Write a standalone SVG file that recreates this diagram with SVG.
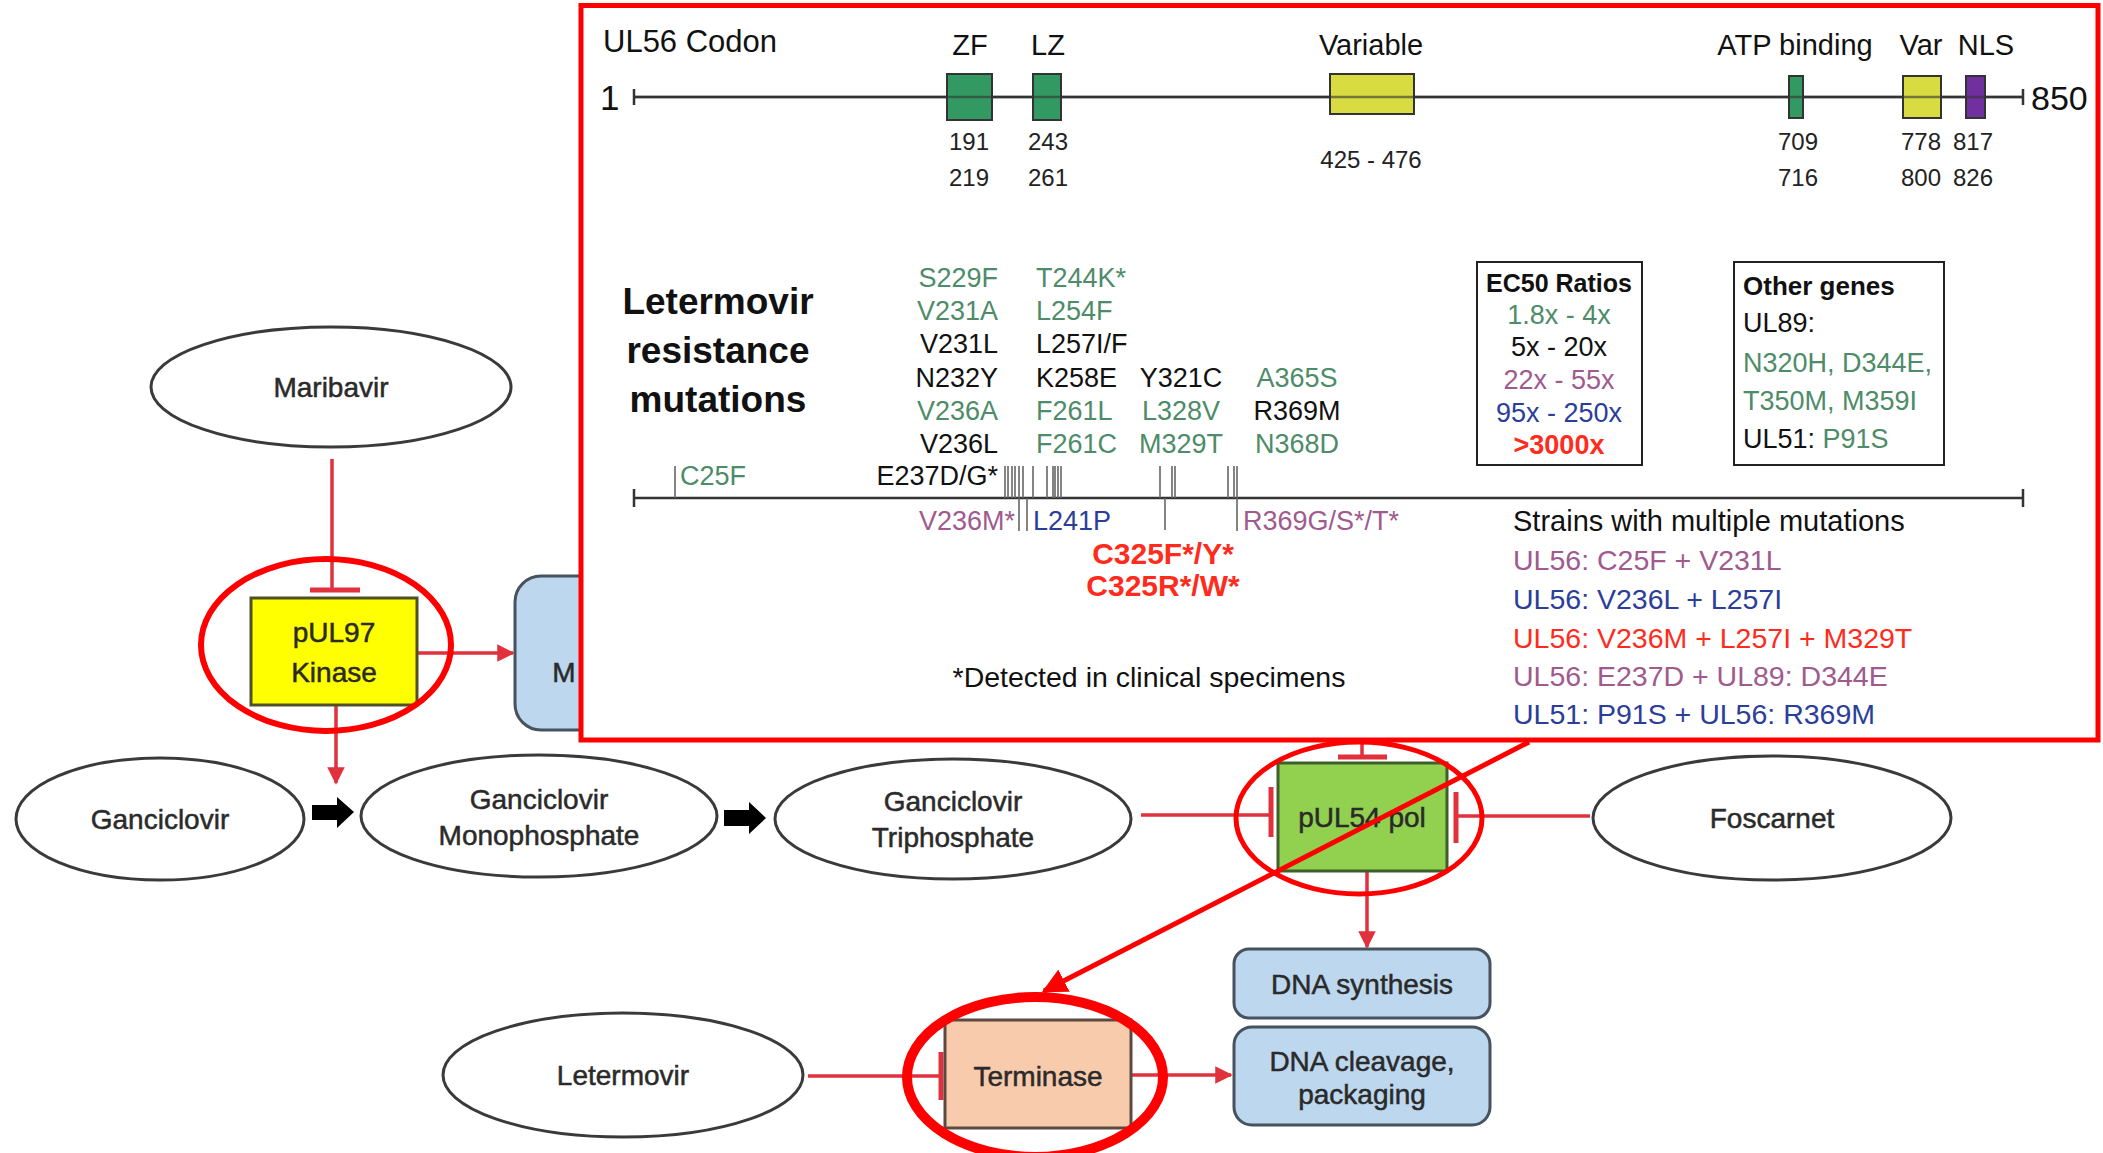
<svg xmlns="http://www.w3.org/2000/svg" width="2103" height="1153" viewBox="0 0 2103 1153">
<style>
  .node text { font-family: "Liberation Sans", Arial, sans-serif; font-size: 28px; fill: #2a2a2a; stroke: #2a2a2a; stroke-width: 0.5; text-anchor: middle; }
  .ell { fill: #fff; stroke: #3a3a3a; stroke-width: 3; }
  .blue { fill: #BDD7EE; stroke: #46525E; stroke-width: 3; }
  .rc { stroke: #E0313C; stroke-width: 3.5; fill: none; }
  .tb { stroke: #E0313C; stroke-width: 5; fill: none; }
  .hl { fill: none; stroke: #FF0000; }
  .t { font-family: "Liberation Sans", Arial, sans-serif; font-size: 27px; fill: #111; }
  .lab { font-size: 29px; text-anchor: middle; }
  .num { font-size: 24px; text-anchor: middle; fill: #222; }
  .g { fill: #4E8B69; }
  .k { fill: #111; }
  .p { fill: #A05A8E; }
  .b { fill: #2B3E9A; }
  .r { fill: #FF2B1C; }
  .bold { font-weight: bold; }
  .mid { text-anchor: middle; }
  .end { text-anchor: end; }
  .tick { stroke: #666; stroke-width: 1.6; }
  .axis { stroke: #333; stroke-width: 2.5; }
  .dom { stroke: #333; stroke-width: 2; }
</style>
<defs>
  <marker id="ah" viewBox="0 0 10 10" refX="9" refY="5" markerWidth="5" markerHeight="5" orient="auto" markerUnits="strokeWidth">
    <path d="M0,0 L10,5 L0,10 z" fill="#E0313C"/>
  </marker>
  <marker id="ahz" viewBox="0 0 10 10" refX="9" refY="5" markerWidth="5" markerHeight="5" orient="auto" markerUnits="strokeWidth">
    <path d="M0,0 L10,5 L0,10 z" fill="#FF0000"/>
  </marker>
</defs>
<rect width="2103" height="1153" fill="#fff"/>

<!-- connectors -->
<g id="connectors">
  <line class="rc" x1="332" y1="459" x2="332" y2="590"/>
  <line class="tb" x1="310" y1="590" x2="360" y2="590"/>
  <line class="rc" x1="417" y1="653" x2="513" y2="653" marker-end="url(#ah)"/>
  <line class="rc" x1="336" y1="705" x2="336" y2="783" marker-end="url(#ah)"/>
  <polygon points="312,805 337,805 337,797 354,812 337,828 337,820 312,820" fill="#000"/>
  <polygon points="724,810 749,810 749,802 766,818 749,834 749,826 724,826" fill="#000"/>
  <line class="rc" x1="1141" y1="815" x2="1271" y2="815"/>
  <line class="tb" x1="1271" y1="787" x2="1271" y2="837"/>
  <line class="rc" x1="1362" y1="740" x2="1362" y2="757"/>
  <line class="tb" x1="1338" y1="757" x2="1387" y2="757"/>
  <line class="rc" x1="1590" y1="816" x2="1456" y2="816"/>
  <line class="tb" x1="1456" y1="792" x2="1456" y2="843"/>
  <line class="rc" x1="1367" y1="871" x2="1367" y2="947" marker-end="url(#ah)"/>
  <line class="rc" x1="808" y1="1076" x2="941" y2="1076"/>
  <line class="tb" x1="941" y1="1052" x2="941" y2="1100"/>
  <line class="rc" x1="1132" y1="1075" x2="1231" y2="1075" marker-end="url(#ah)"/>
</g>

<!-- nodes -->
<g id="maribavir" class="node">
  <ellipse class="ell" cx="331" cy="387" rx="180" ry="60"/>
  <text x="331" y="397">Maribavir</text>
</g>
<g id="pul97" class="node">
  <rect x="251" y="598" width="166" height="107" fill="#FFFF00" stroke="#505028" stroke-width="3"/>
  <text x="334" y="642">pUL97</text>
  <text x="334" y="682">Kinase</text>
</g>
<g id="mbox" class="node">
  <rect class="blue" x="515" y="576" width="220" height="154" rx="26"/>
  <text x="564" y="682">M</text>
</g>
<g id="ganciclovir" class="node">
  <ellipse class="ell" cx="160" cy="819" rx="144" ry="61"/>
  <text x="160" y="829">Ganciclovir</text>
</g>
<g id="gmp" class="node">
  <ellipse class="ell" cx="539" cy="816" rx="178" ry="61"/>
  <text x="539" y="809">Ganciclovir</text>
  <text x="539" y="845">Monophosphate</text>
</g>
<g id="gtp" class="node">
  <ellipse class="ell" cx="953" cy="819" rx="178" ry="60"/>
  <text x="953" y="811">Ganciclovir</text>
  <text x="953" y="847">Triphosphate</text>
</g>
<g id="pul54" class="node">
  <rect x="1278" y="763" width="169" height="108" fill="#92D050" stroke="#3F5F2A" stroke-width="3"/>
  <text x="1362" y="827">pUL54 pol</text>
</g>
<g id="foscarnet" class="node">
  <ellipse class="ell" cx="1772" cy="818" rx="179" ry="62"/>
  <text x="1772" y="828">Foscarnet</text>
</g>
<g id="dnasynth" class="node">
  <rect class="blue" x="1234" y="949" width="256" height="69" rx="15"/>
  <text x="1362" y="994">DNA synthesis</text>
</g>
<g id="dnacleave" class="node">
  <rect class="blue" x="1234" y="1027" width="256" height="98" rx="18"/>
  <text x="1362" y="1071">DNA cleavage,</text>
  <text x="1362" y="1104">packaging</text>
</g>
<g id="letermovir" class="node">
  <ellipse class="ell" cx="623" cy="1075" rx="180" ry="62"/>
  <text x="623" y="1085">Letermovir</text>
</g>
<g id="terminase" class="node">
  <rect x="945" y="1020" width="186" height="108" fill="#F8CBAD" stroke="#5A4A42" stroke-width="3"/>
  <text x="1038" y="1086">Terminase</text>
</g>

<!-- inset -->
<g id="inset">
  <rect x="581" y="5.5" width="1517" height="734.5" fill="#fff" stroke="#FF0000" stroke-width="5"/>
  <text class="t" x="603" y="52" style="font-size:31px">UL56 Codon</text>
  <text class="t" x="600" y="110" style="font-size:35px">1</text>
  <text class="t" x="2031" y="110" style="font-size:34px">850</text>
  <line class="axis" x1="634" y1="97" x2="2023" y2="97"/>
  <line class="axis" x1="634" y1="89" x2="634" y2="105"/>
  <line class="axis" x1="2023" y1="89" x2="2023" y2="105"/>
  <rect class="dom" x="947" y="74" width="45" height="46" fill="#339962"/>
  <rect class="dom" x="1033" y="74" width="28" height="46" fill="#339962"/>
  <rect class="dom" x="1330" y="74" width="84" height="40" fill="#D8DC40"/>
  <rect class="dom" x="1789" y="76" width="14" height="42" fill="#339962"/>
  <rect class="dom" x="1903" y="76" width="38" height="42" fill="#D8DC40"/>
  <rect class="dom" x="1966" y="76" width="19" height="42" fill="#7030A0"/>
  <line class="axis" x1="634" y1="97" x2="2023" y2="97" stroke-opacity="0.6"/>
  <text class="t lab" x="970" y="55">ZF</text>
  <text class="t lab" x="1048" y="55">LZ</text>
  <text class="t lab" x="1371" y="55">Variable</text>
  <text class="t lab" x="1795" y="55">ATP binding</text>
  <text class="t lab" x="1921" y="55">Var</text>
  <text class="t lab" x="1986" y="55">NLS</text>
  <text class="t num" x="969" y="150">191</text>
  <text class="t num" x="969" y="186">219</text>
  <text class="t num" x="1048" y="150">243</text>
  <text class="t num" x="1048" y="186">261</text>
  <text class="t num" x="1371" y="168">425 - 476</text>
  <text class="t num" x="1798" y="150">709</text>
  <text class="t num" x="1798" y="186">716</text>
  <text class="t num" x="1921" y="150">778</text>
  <text class="t num" x="1921" y="186">800</text>
  <text class="t num" x="1973" y="150">817</text>
  <text class="t num" x="1973" y="186">826</text>

  <text class="t bold mid" x="718" y="314" style="font-size:37px">Letermovir</text>
  <text class="t bold mid" x="718" y="363" style="font-size:37px">resistance</text>
  <text class="t bold mid" x="718" y="412" style="font-size:37px">mutations</text>

  <text class="t end g" x="998" y="287">S229F</text>
  <text class="t end g" x="998" y="320">V231A</text>
  <text class="t end k" x="998" y="353">V231L</text>
  <text class="t end k" x="998" y="387">N232Y</text>
  <text class="t end g" x="998" y="420">V236A</text>
  <text class="t end k" x="998" y="453">V236L</text>
  <text class="t end k" x="998" y="485">E237D/G*</text>

  <text class="t g" x="1036" y="287">T244K*</text>
  <text class="t g" x="1036" y="320">L254F</text>
  <text class="t k" x="1036" y="353">L257I/F</text>
  <text class="t k" x="1036" y="387">K258E</text>
  <text class="t g" x="1036" y="420">F261L</text>
  <text class="t g" x="1036" y="453">F261C</text>

  <text class="t mid k" x="1181" y="387">Y321C</text>
  <text class="t mid g" x="1181" y="420">L328V</text>
  <text class="t mid g" x="1181" y="453">M329T</text>

  <text class="t mid g" x="1297" y="387">A365S</text>
  <text class="t mid k" x="1297" y="420">R369M</text>
  <text class="t mid g" x="1297" y="453">N368D</text>

  <text class="t g" x="680" y="485">C25F</text>

  <line class="axis" x1="634" y1="498" x2="2023" y2="498"/>
  <line class="axis" x1="634" y1="489" x2="634" y2="507"/>
  <line class="axis" x1="2023" y1="489" x2="2023" y2="507"/>
  <g class="tick">
    <line x1="675" y1="466" x2="675" y2="498"/>
    <line x1="1005" y1="466" x2="1005" y2="498"/>
    <line x1="1008" y1="466" x2="1008" y2="498"/>
    <line x1="1012" y1="466" x2="1012" y2="498"/>
    <line x1="1015" y1="466" x2="1015" y2="498"/>
    <line x1="1019" y1="466" x2="1019" y2="498"/>
    <line x1="1023" y1="466" x2="1023" y2="498"/>
    <line x1="1033" y1="466" x2="1033" y2="498"/>
    <line x1="1047" y1="466" x2="1047" y2="498"/>
    <line x1="1053" y1="466" x2="1053" y2="498"/>
    <line x1="1055" y1="466" x2="1055" y2="498"/>
    <line x1="1058" y1="466" x2="1058" y2="498"/>
    <line x1="1061" y1="466" x2="1061" y2="498"/>
    <line x1="1160" y1="466" x2="1160" y2="498"/>
    <line x1="1172" y1="466" x2="1172" y2="498"/>
    <line x1="1175" y1="466" x2="1175" y2="498"/>
    <line x1="1228" y1="466" x2="1228" y2="498"/>
    <line x1="1234" y1="466" x2="1234" y2="498"/>
    <line x1="1237" y1="466" x2="1237" y2="498"/>
    <line x1="1019" y1="498" x2="1019" y2="531"/>
    <line x1="1027" y1="498" x2="1027" y2="531"/>
    <line x1="1165" y1="498" x2="1165" y2="530"/>
    <line x1="1237" y1="498" x2="1237" y2="531"/>
  </g>
  <text class="t end p" x="1015" y="530">V236M*</text>
  <text class="t b" x="1033" y="530">L241P</text>
  <text class="t p" x="1243" y="530">R369G/S*/T*</text>
  <text class="t mid r bold" x="1163" y="564" style="font-size:30px">C325F*/Y*</text>
  <text class="t mid r bold" x="1163" y="596" style="font-size:30px">C325R*/W*</text>
  <text class="t mid k" x="1149" y="687" style="font-size:28.5px">*Detected in clinical specimens</text>

  <rect x="1477" y="262" width="165" height="203" fill="none" stroke="#222" stroke-width="2"/>
  <text class="t mid k bold" x="1559" y="292" style="font-size:25px">EC50 Ratios</text>
  <text class="t mid g" x="1559" y="324">1.8x - 4x</text>
  <text class="t mid k" x="1559" y="356">5x - 20x</text>
  <text class="t mid p" x="1559" y="389">22x - 55x</text>
  <text class="t mid b" x="1559" y="422">95x - 250x</text>
  <text class="t mid r bold" x="1559" y="454">&gt;3000x</text>

  <rect x="1734" y="262" width="210" height="203" fill="none" stroke="#222" stroke-width="2"/>
  <text class="t k bold" x="1743" y="295" style="font-size:26px">Other genes</text>
  <text class="t k" x="1743" y="332">UL89:</text>
  <text class="t g" x="1743" y="372">N320H, D344E,</text>
  <text class="t g" x="1743" y="410">T350M, M359I</text>
  <text class="t k" x="1743" y="448">UL51: <tspan class="g">P91S</tspan></text>

  <text class="t k" x="1513" y="531" style="font-size:29px">Strains with multiple mutations</text>
  <text class="t p" x="1513" y="570" style="font-size:28.5px">UL56: C25F + V231L</text>
  <text class="t b" x="1513" y="609" style="font-size:28.5px">UL56: V236L + L257I</text>
  <text class="t r" x="1513" y="648" style="font-size:28.5px">UL56: V236M + L257I + M329T</text>
  <text class="t p" x="1513" y="686" style="font-size:28.5px">UL56: E237D + UL89: D344E</text>
  <text class="t b" x="1513" y="724" style="font-size:28.5px">UL51: P91S + UL56: R369M</text>
</g>

<g id="highlights">
  <ellipse class="hl" cx="326" cy="645" rx="125" ry="86" stroke-width="6"/>
  <ellipse class="hl" cx="1359" cy="818" rx="123" ry="76" stroke-width="5"/>
  <ellipse class="hl" cx="1035" cy="1077" rx="128" ry="80" stroke-width="10"/>
  <line x1="1529" y1="742" x2="1044" y2="991" stroke="#FF0000" stroke-width="5" marker-end="url(#ahz)"/>
</g>
</svg>
